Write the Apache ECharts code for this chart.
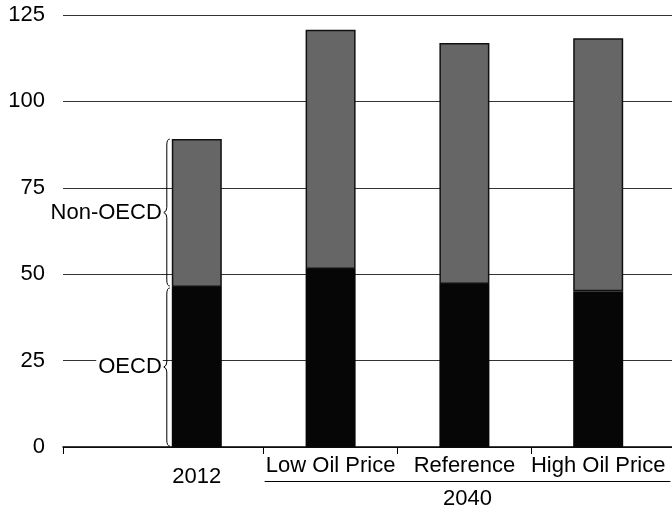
<!DOCTYPE html>
<html>
<head>
<meta charset="utf-8">
<script src="https://cdn.jsdelivr.net/npm/echarts@6/dist/echarts.min.js"></script>
<style>
html,body{margin:0;padding:0;background:#fff;}
#c{width:672px;height:512px;}
</style>
</head>
<body>
<div id="c"></div>
<script>
// ---- data ----
var categories = ['2012', 'Low Oil Price', 'Reference', 'High Oil Price'];
var oecd = [46.3, 51.5, 47.2, 45.1];
var nonOecd = [42.8, 69.2, 69.7, 73.2];
var seriesNames = ['OECD', 'Non-OECD'];
var yTicks = [0, 25, 50, 75, 100, 125];
var groupLabel = '2040';

// ---- build slotted category axis (bars on even slots, boundaries on odd) ----
var slotCats = ['', ''];
var oecdSlots = [null, null];
var nonSlots = [null, null];
categories.forEach(function (c, i) {
  slotCats.push(c); oecdSlots.push(oecd[i]); nonSlots.push(nonOecd[i]);
  slotCats.push(''); oecdSlots.push(null); nonSlots.push(null);
});
slotCats.push(''); oecdSlots.push(null); nonSlots.push(null);

var FONT = '"Liberation Sans", Arial, sans-serif';

function withLabel(arr, name, bg) {
  return arr.map(function (v, i) {
    if (i === 2) {
      return {
        value: v,
        label: {
          show: true, position: 'left', distance: 9,
          formatter: name, color: '#000', fontSize: 22, fontFamily: FONT,
          backgroundColor: bg ? '#fff' : 'transparent', padding: [0, 1, 0, 2]
        }
      };
    }
    return v;
  });
}

var chart = echarts.init(document.getElementById('c'));
chart.setOption({
  animation: false,
  backgroundColor: '#fff',
  grid: [
    { left: 63, width: 669, top: 15, bottom: 65, containLabel: false, outerBoundsMode: 'none' },
    { left: 265, right: 2, top: 460, bottom: 31, containLabel: false, outerBoundsMode: 'none' }
  ],
  xAxis: [{
    type: 'category',
    gridIndex: 0,
    data: slotCats,
    boundaryGap: false,
    axisLine: { show: true, lineStyle: { color: '#000', width: 1.5 } },
    axisTick: {
      show: true, length: 7, lineStyle: { color: '#000', width: 1 },
      interval: function (i) { return i === 0 || (i % 2 === 1 && i >= 3 && i <= 2 * categories.length - 1); }
    },
    axisLabel: {
      interval: 0, margin: 8, color: '#000', fontSize: 22, fontFamily: FONT,
      formatter: function (v) { return v === categories[0] ? '{a|' + v + '}' : v; },
      rich: { a: { fontSize: 22, fontFamily: FONT, color: '#000', padding: [11, 0, 0, 0] } }
    },
    splitLine: { show: false }
  }, {
    type: 'category',
    gridIndex: 1,
    data: [groupLabel],
    axisLine: { show: true, lineStyle: { color: '#000', width: 1 } },
    axisTick: { show: false },
    axisLabel: { margin: 7, color: '#000', fontSize: 22, fontFamily: FONT },
    splitLine: { show: false }
  }],
  yAxis: [{
    type: 'value',
    gridIndex: 0,
    min: yTicks[0],
    max: yTicks[yTicks.length - 1],
    interval: yTicks[1] - yTicks[0],
    axisLine: { show: false },
    axisTick: { show: false },
    axisLabel: { margin: 18, color: '#000', fontSize: 22, fontFamily: FONT },
    splitLine: { show: true, lineStyle: { color: '#333', width: 1 } }
  }, {
    type: 'value', gridIndex: 1, show: false
  }],
  series: [{
    name: seriesNames[0],
    type: 'bar',
    stack: 'total',
    barWidth: 50,
    xAxisIndex: 0, yAxisIndex: 0,
    itemStyle: { color: '#060606' },
    data: withLabel(oecdSlots, seriesNames[0], true)
  }, {
    name: seriesNames[1],
    type: 'bar',
    stack: 'total',
    barWidth: 50,
    xAxisIndex: 0, yAxisIndex: 0,
    itemStyle: { color: '#666666', borderColor: '#111', borderWidth: 1.5 },
    data: withLabel(nonSlots, seriesNames[1], false)
  }]
});

// ---- braces beside the first bar, placed through the chart's own scales ----
function braceParts(x, top, bot) {
  var mid = (top + bot) / 2;
  var st = { fill: null, stroke: '#000', lineWidth: 1 };
  function q(x1, y1, cx, cy, x2, y2) {
    return { type: 'bezierCurve', shape: { x1: x1, y1: y1, cpx1: cx, cpy1: cy, x2: x2, y2: y2 }, style: st, z: 10 };
  }
  function l(x1, y1, x2, y2) {
    return { type: 'line', shape: { x1: x1, y1: y1, x2: x2, y2: y2 }, style: st, z: 10 };
  }
  return [
    q(x + 3, top, x, top, x, top + 6),
    l(x, top + 6, x, mid - 5),
    q(x, mid - 5, x, mid - 1, x - 3, mid),
    q(x - 3, mid, x, mid + 1, x, mid + 5),
    l(x, mid + 5, x, bot - 6),
    q(x, bot - 6, x, bot, x + 3, bot)
  ];
}
var p0 = chart.convertToPixel({ xAxisIndex: 0, yAxisIndex: 0 }, [2, 0]);
var p1 = chart.convertToPixel({ xAxisIndex: 0, yAxisIndex: 0 }, [2, oecd[0]]);
var p2 = chart.convertToPixel({ xAxisIndex: 0, yAxisIndex: 0 }, [2, oecd[0] + nonOecd[0]]);
var bx = p0[0] - 25 - 5;
chart.setOption({
  graphic: braceParts(bx, p1[1] + 1, p0[1] - 1).concat(braceParts(bx, p2[1], p1[1] - 1))
});
</script>
</body>
</html>
